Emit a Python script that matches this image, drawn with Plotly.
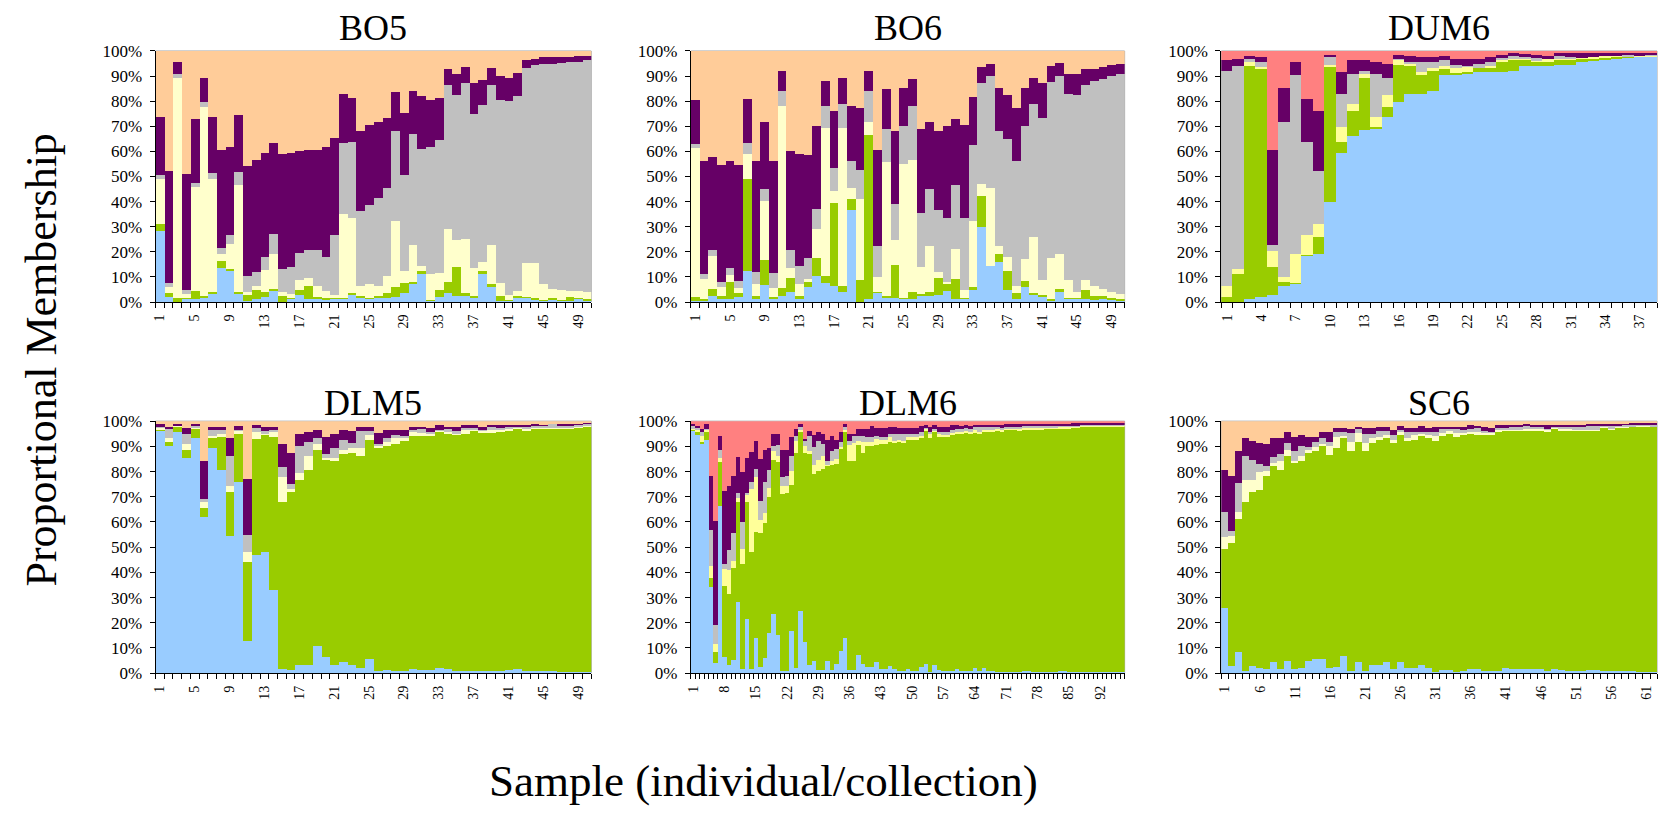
import numpy as np
import plotly.graph_objects as go

# ---------------- data: cumulative upper boundary (%) of each cluster, bottom -> top -------------
# order: blue, green, yellow, grey, purple ; the top cluster (peach / salmon) fills to 100 %

BO5_BLUE = [28.1, 2.0, 0.0, 1.3, 1.3, 1.9, 3.5, 13.7, 12.3, 3.2,
            0.6, 1.2, 1.9, 4.5, 0.0, 1.2, 2.6, 1.2, 1.2, 0.9,
            1.2, 1.2, 2.6, 1.9, 1.2, 1.9, 1.4, 1.9, 3.5, 7.1,
            11.3, 0.6, 1.9, 3.5, 2.5, 2.5, 1.6, 11.0, 5.8, 0.6,
            0.6, 1.9, 1.6, 0.9, 0.6, 0.9, 0.6, 0.6, 1.2, 0.5]
BO5_GREEN = [31.0, 3.5, 1.5, 1.5, 4.2, 2.2, 4.0, 16.2, 13.1, 3.8,
             2.6, 4.8, 3.8, 5.3, 2.2, 1.6, 4.8, 6.5, 1.9, 1.4,
             1.4, 1.4, 3.6, 2.2, 1.4, 2.5, 3.5, 5.8, 7.4, 7.9,
             12.2, 1.0, 4.8, 7.9, 14.1, 3.5, 2.5, 12.2, 7.0, 2.5,
             0.9, 2.5, 1.8, 1.7, 0.9, 1.7, 0.9, 2.1, 1.4, 1.3]
BO5_YELLOW = [48.9, 6.0, 89.4, 3.2, 46.0, 77.7, 48.9, 19.3, 23.2, 46.6,
              4.0, 6.5, 12.8, 19.3, 4.0, 3.0, 8.9, 9.6, 6.4, 4.4,
              2.9, 35.1, 33.6, 6.4, 7.1, 6.4, 10.2, 32.3, 12.3, 22.7,
              14.5, 11.0, 11.5, 29.2, 24.9, 25.3, 13.6, 16.1, 22.7, 7.4,
              2.9, 4.5, 15.4, 15.4, 7.1, 5.3, 4.9, 4.2, 4.4, 3.8]
BO5_GREY = [50.5, 7.5, 90.8, 4.8, 47.6, 79.5, 51.2, 21.7, 26.8, 51.9,
            10.2, 11.9, 18.0, 27.1, 13.1, 13.9, 19.6, 20.9, 20.9, 18.0,
            26.6, 63.2, 63.6, 36.3, 38.8, 41.5, 45.3, 68.1, 50.5, 67.1,
            60.8, 61.6, 64.7, 86.3, 82.6, 87.2, 75.1, 78.3, 86.5, 80.4,
            80.0, 82.0, 93.3, 94.3, 94.7, 94.7, 95.3, 95.6, 95.8, 96.6]
BO5_PURPLE = [73.8, 52.0, 95.6, 51.1, 72.9, 89.2, 73.8, 60.6, 61.9, 74.4,
              54.3, 56.7, 59.3, 63.2, 58.9, 59.3, 60.2, 60.6, 60.6, 61.6,
              65.4, 83.0, 81.3, 68.2, 70.7, 71.6, 73.3, 83.7, 75.5, 84.2,
              82.2, 80.3, 81.3, 92.7, 91.0, 93.8, 87.2, 88.5, 93.1, 90.0,
              89.1, 91.2, 96.5, 96.9, 97.7, 97.7, 97.7, 97.8, 97.9, 98.2]

BO6_BLUE = [0.5, 0.6, 2.5, 1.2, 1.3, 1.8, 12.2, 1.2, 6.7, 1.3,
            2.5, 4.1, 1.2, 5.8, 10.2, 7.4, 6.5, 3.8, 36.5, 0.0,
            1.2, 3.9, 1.4, 1.4, 1.3, 1.2, 2.2, 2.5, 2.6, 4.5,
            1.3, 1.3, 4.8, 30.0, 14.4, 16.1, 4.8, 1.3, 6.1, 2.6,
            2.2, 0.6, 3.9, 1.2, 1.3, 1.2, 1.0, 1.5, 0.8, 0.6]
BO6_GREEN = [2.0, 1.2, 5.2, 2.5, 8.0, 3.5, 49.2, 2.5, 16.8, 1.9,
             5.4, 9.7, 2.5, 7.8, 17.4, 10.4, 39.5, 6.3, 41.1, 8.9,
             66.7, 4.1, 2.2, 14.9, 1.4, 3.8, 3.2, 4.1, 9.7, 7.4,
             9.1, 1.6, 6.1, 42.1, 14.5, 19.0, 12.3, 3.5, 8.3, 3.5,
             2.6, 1.2, 5.1, 1.4, 1.4, 4.8, 2.5, 2.2, 1.5, 1.2]
BO6_YELLOW = [61.5, 9.3, 18.4, 5.8, 10.6, 5.4, 58.8, 7.1, 40.2, 5.4,
              78.2, 13.5, 7.1, 9.3, 29.0, 69.2, 44.3, 69.3, 45.6, 41.1,
              71.7, 10.0, 55.6, 24.6, 55.0, 56.6, 13.9, 22.3, 11.9, 8.0,
              21.0, 4.8, 32.4, 47.2, 45.6, 22.3, 18.0, 6.3, 17.1, 25.8,
              8.9, 17.4, 19.3, 8.9, 3.9, 8.7, 6.5, 5.0, 4.0, 3.0]
BO6_GREY = [63.0, 11.3, 20.7, 8.0, 13.5, 8.4, 63.5, 11.9, 45.2, 11.5,
            84.1, 20.7, 14.5, 17.4, 37.2, 78.0, 53.4, 79.0, 56.3, 52.7,
            84.2, 22.3, 68.9, 39.1, 70.2, 78.0, 35.6, 45.2, 36.5, 33.3,
            46.6, 33.5, 62.7, 87.3, 89.9, 68.0, 65.0, 56.0, 70.2, 78.9,
            73.2, 87.7, 89.9, 82.9, 82.3, 86.4, 88.0, 89.0, 90.0, 91.0]
BO6_PURPLE = [80.6, 56.0, 57.6, 54.4, 56.3, 54.4, 81.0, 56.0, 71.9, 56.3,
              92.2, 60.2, 58.8, 58.5, 70.2, 88.1, 76.0, 89.2, 78.0, 77.3,
              92.2, 60.5, 84.8, 68.3, 85.4, 88.7, 68.9, 71.9, 68.0, 70.2,
              72.8, 70.5, 81.5, 93.8, 94.8, 85.1, 82.5, 77.1, 85.1, 89.2,
              87.3, 94.0, 95.1, 90.9, 90.9, 92.9, 93.0, 93.5, 94.5, 95.0]

DUM6_BLUE = [0.0, 0.0, 1.3, 1.8, 2.8, 6.3, 7.4, 18.4, 19.3, 40.0,
             59.5, 66.3, 68.7, 69.3, 73.7, 79.8, 82.9, 82.9, 84.2, 90.3,
             90.3, 91.2, 91.6, 91.6, 91.6, 92.2, 94.2, 94.2, 94.2, 94.6,
             94.6, 95.5, 96.1, 96.8, 97.0, 97.4, 97.7, 97.7]
DUM6_GREEN = [2.0, 11.3, 94.2, 93.1, 13.9, 8.0, 7.6, 18.7, 25.8, 93.9,
              63.7, 76.0, 89.2, 69.8, 77.6, 94.6, 93.9, 90.3, 92.2, 92.9,
              91.3, 91.8, 93.1, 93.1, 95.5, 96.5, 96.8, 95.7, 95.7, 96.8,
              96.5, 97.0, 96.8, 97.4, 98.0, 97.8, 98.0, 98.0]
DUM6_YELLOW = [6.4, 13.3, 95.7, 93.5, 20.3, 10.0, 19.3, 26.6, 31.0, 94.6,
               69.6, 78.9, 90.9, 73.7, 82.3, 96.5, 94.8, 91.8, 93.1, 94.2,
               93.1, 93.9, 93.1, 94.2, 96.5, 97.0, 97.0, 95.9, 97.0, 97.0,
               96.8, 97.4, 97.7, 98.3, 98.3, 98.0, 98.3, 98.3]
DUM6_GREY = [92.2, 94.2, 97.0, 95.5, 22.7, 71.8, 90.3, 63.7, 52.1, 97.7,
             82.9, 90.9, 92.2, 90.9, 89.2, 96.8, 95.7, 95.5, 95.5, 96.5,
             94.6, 94.2, 94.8, 95.7, 97.4, 98.0, 98.0, 97.4, 97.0, 98.0,
             97.7, 97.4, 97.7, 98.4, 98.4, 98.3, 98.4, 98.4]
DUM6_PURPLE = [96.5, 97.0, 98.0, 97.7, 60.5, 85.4, 95.5, 81.0, 76.0, 98.3,
               91.6, 96.5, 96.5, 95.5, 94.8, 98.4, 98.0, 97.7, 97.7, 98.0,
               96.8, 96.8, 96.8, 97.7, 98.4, 99.1, 98.7, 98.3, 98.0, 99.4,
               99.1, 99.1, 99.1, 99.1, 99.1, 99.1, 99.1, 99.4]

DLM5_BLUE = [96.1, 90.2, 95.5, 85.4, 93.1, 62.1, 89.3, 80.5, 54.3, 75.7,
             12.5, 47.0, 48.1, 33.0, 1.6, 1.3, 3.0, 3.0, 10.7, 6.5,
             3.0, 4.5, 3.2, 1.9, 5.4, 0.9, 1.3, 0.9, 0.9, 1.6,
             1.3, 1.3, 1.9, 1.6, 0.8, 0.8, 0.8, 0.8, 0.8, 0.8,
             1.3, 1.6, 0.8, 0.9, 0.8, 0.8, 0.5, 0.5, 0.5, 0.5]
DLM5_GREEN = [96.6, 91.8, 97.7, 88.6, 97.0, 65.6, 93.1, 93.5, 71.8, 94.8,
              44.2, 92.8, 94.8, 93.5, 67.9, 71.8, 76.6, 80.5, 88.6, 84.7,
              84.1, 86.9, 87.3, 86.0, 92.5, 89.3, 90.2, 90.9, 92.2, 94.2,
              94.4, 94.0, 95.5, 95.1, 94.8, 94.8, 96.1, 95.5, 95.1, 95.5,
              96.4, 97.0, 96.4, 97.0, 97.0, 97.0, 97.0, 97.0, 97.4, 97.7]
DLM5_YELLOW = [97.4, 93.1, 98.1, 90.8, 97.3, 67.7, 94.0, 94.8, 74.4, 96.1,
               48.1, 95.7, 95.0, 95.7, 77.6, 73.1, 79.2, 86.3, 90.8, 85.4,
               85.4, 88.4, 89.3, 89.3, 94.4, 90.2, 91.8, 93.1, 93.1, 95.7,
               95.1, 94.8, 96.4, 95.7, 95.0, 96.6, 96.6, 96.1, 96.6, 96.6,
               97.0, 97.3, 97.0, 97.4, 97.4, 97.4, 97.4, 97.4, 97.7, 98.1]
DLM5_GREY = [97.7, 97.0, 98.3, 94.7, 98.3, 69.0, 96.4, 96.4, 86.0, 96.3,
             54.7, 97.4, 96.1, 96.4, 81.9, 75.0, 89.9, 91.8, 93.1, 87.1,
             89.3, 92.5, 91.2, 96.1, 96.1, 90.8, 93.1, 94.4, 94.0, 96.6,
             97.0, 95.7, 96.6, 97.0, 96.1, 97.4, 97.4, 96.6, 97.7, 97.4,
             97.7, 97.7, 97.9, 98.3, 98.3, 98.7, 98.3, 98.3, 98.7, 99.0]
DLM5_PURPLE = [98.7, 97.7, 99.0, 97.4, 99.0, 84.1, 97.7, 97.7, 93.1, 97.9,
               77.0, 98.6, 97.7, 97.7, 90.8, 87.3, 94.7, 95.7, 96.4, 93.5,
               94.7, 96.4, 96.1, 97.7, 97.7, 95.1, 96.4, 96.6, 96.6, 97.7,
               97.7, 97.2, 98.3, 97.7, 97.7, 98.3, 98.3, 97.7, 98.3, 98.3,
               98.3, 98.3, 98.6, 99.0, 98.6, 98.7, 99.0, 99.0, 99.0, 99.2]

DLM6_BLUE = [96.1, 94.4, 90.9, 92.5, 34.3, 3.8, 66.4, 6.2, 3.2, 5.2,
             28.2, 1.7, 21.6, 1.6, 13.8, 2.3, 6.1, 16.0, 23.6, 15.0,
             0.8, 0.8, 16.5, 2.0, 24.5, 12.2, 3.0, 4.8, 1.3, 1.3,
             4.8, 1.3, 3.5, 8.7, 14.0, 1.3, 1.3, 7.0, 3.5, 2.3,
             2.3, 4.3, 1.6, 1.6, 2.8, 1.6, 0.6, 0.6, 1.6, 0.6,
             0.6, 2.2, 3.5, 0.3, 3.1, 1.0, 0.6, 0.6, 0.6, 1.6,
             0.6, 0.8, 0.6, 1.9, 0.6, 1.9, 0.6, 0.6, 0.3, 0.3,
             0.3, 0.3, 0.3, 0.3, 0.6, 0.6, 0.3, 0.3, 0.3, 0.3,
             0.3, 0.3, 0.6, 0.6, 0.3, 0.3, 0.3, 0.3, 0.3, 0.3,
             0.3, 0.3, 0.3, 0.3, 0.3, 0.3, 0.3]
DLM6_GREEN = [96.5, 95.5, 91.5, 95.5, 37.5, 8.3, 83.7, 34.5, 31.5, 41.5,
              67.7, 43.3, 67.7, 47.9, 56.0, 55.6, 59.5, 69.9, 84.5, 83.7,
              71.2, 71.3, 74.5, 87.5, 95.5, 87.5, 87.0, 78.8, 80.0, 81.0,
              82.2, 82.7, 83.0, 89.0, 95.5, 84.0, 84.0, 90.5, 87.5, 89.9,
              89.9, 90.6, 90.9, 90.9, 91.8, 91.2, 91.5, 91.5, 92.8, 92.8,
              92.8, 93.5, 96.1, 93.1, 95.7, 93.8, 93.5, 93.5, 94.4, 95.1,
              94.8, 95.3, 94.8, 95.3, 94.8, 95.7, 95.7, 95.7, 96.4, 95.7,
              96.6, 96.6, 96.6, 96.4, 96.6, 96.6, 96.8, 96.8, 96.8, 97.0,
              97.0, 97.0, 97.2, 97.2, 97.2, 97.4, 97.4, 97.7, 97.7, 97.7,
              97.7, 97.8, 97.8, 97.9, 98.0, 98.0, 98.0]
DLM6_YELLOW = [97.2, 96.5, 94.0, 96.5, 42.5, 11.5, 85.5, 41.3, 41.0, 44.6,
               69.5, 49.4, 70.5, 73.1, 77.6, 60.8, 63.4, 73.4, 88.0, 86.3,
               74.1, 74.2, 80.0, 92.0, 96.5, 90.0, 88.0, 82.5, 84.5, 86.0,
               82.5, 84.2, 85.0, 89.7, 96.5, 90.3, 91.2, 92.0, 91.5, 91.8,
               91.8, 92.8, 92.5, 92.5, 93.8, 92.2, 92.5, 92.2, 93.5, 93.5,
               93.5, 94.0, 97.0, 94.8, 96.4, 94.8, 94.6, 94.4, 95.3, 95.7,
               95.7, 96.1, 95.7, 96.4, 95.7, 96.6, 96.6, 96.6, 97.0, 96.6,
               97.2, 97.2, 97.2, 97.0, 97.2, 97.2, 97.4, 97.4, 97.4, 97.6,
               97.6, 97.6, 97.8, 97.8, 97.8, 98.0, 98.0, 98.2, 98.2, 98.2,
               98.2, 98.3, 98.3, 98.4, 98.4, 98.4, 98.4]
DLM6_GREY = [97.9, 97.3, 95.8, 97.0, 56.9, 19.0, 88.4, 43.3, 48.8, 55.4,
             71.4, 59.8, 71.4, 75.9, 80.9, 68.2, 75.9, 80.5, 89.9, 90.6,
             77.6, 78.0, 86.0, 94.0, 97.5, 92.0, 94.0, 89.5, 92.0, 91.0,
             84.0, 88.0, 89.0, 91.5, 97.5, 92.0, 94.0, 94.2, 94.0, 93.5,
             93.5, 94.2, 93.5, 93.5, 94.8, 94.8, 94.8, 94.8, 94.8, 94.8,
             94.8, 95.7, 97.4, 95.7, 96.9, 95.7, 95.7, 95.7, 96.6, 96.9,
             96.9, 97.2, 96.9, 97.6, 97.6, 97.6, 97.6, 97.6, 97.7, 97.4,
             97.8, 97.8, 97.8, 97.8, 98.0, 98.0, 98.0, 98.0, 98.0, 98.2,
             98.2, 98.2, 98.3, 98.3, 98.3, 98.4, 98.4, 98.6, 98.6, 98.6,
             98.6, 98.7, 98.7, 98.7, 98.7, 98.7, 98.7]
DLM6_PURPLE = [98.7, 98.0, 97.0, 98.7, 78.0, 60.5, 94.2, 72.2, 74.1, 78.0,
               85.8, 79.8, 85.4, 87.6, 92.2, 85.1, 88.4, 89.3, 94.8, 94.8,
               88.6, 88.4, 93.5, 96.9, 98.7, 93.0, 96.0, 94.5, 95.7, 95.0,
               92.3, 94.0, 92.3, 95.8, 98.7, 95.0, 95.0, 97.0, 97.0, 97.0,
               98.0, 97.3, 97.3, 97.3, 97.5, 97.5, 97.3, 97.3, 97.3, 97.3,
               97.3, 98.2, 98.6, 97.7, 98.6, 97.7, 97.7, 97.7, 98.6, 98.6,
               98.1, 98.6, 98.1, 98.6, 98.6, 98.6, 98.6, 98.6, 98.6, 98.6,
               98.8, 98.8, 98.8, 98.8, 98.9, 98.9, 98.9, 98.9, 98.9, 99.0,
               99.0, 99.0, 99.0, 99.0, 99.0, 99.1, 99.1, 99.1, 99.1, 99.2,
               99.2, 99.2, 99.2, 99.3, 99.3, 99.3, 99.3]

SC6_BLUE = [25.6, 2.8, 8.2, 0.6, 2.8, 1.9, 1.6, 4.3, 1.6, 4.9,
            1.6, 1.9, 4.9, 5.4, 5.4, 1.9, 2.2, 6.7, 0.6, 4.3,
            0.6, 3.0, 3.0, 4.3, 1.6, 4.5, 1.9, 1.9, 3.0, 1.9,
            0.4, 1.0, 1.0, 0.4, 0.6, 1.6, 1.6, 0.6, 0.6, 0.6,
            1.9, 1.6, 1.6, 1.6, 1.6, 1.6, 0.6, 1.6, 1.0, 0.6,
            0.6, 0.6, 1.3, 1.3, 0.9, 0.6, 0.6, 0.6, 0.6, 0.4,
            0.4, 0.4]
SC6_GREEN = [49.4, 51.4, 61.1, 67.7, 71.8, 72.8, 78.0, 82.1, 80.5, 86.3,
             83.2, 84.1, 87.3, 88.0, 89.9, 86.4, 89.3, 93.5, 88.2, 91.8,
             88.0, 91.2, 92.5, 93.1, 91.2, 94.8, 92.2, 92.5, 94.0, 93.1,
             92.1, 94.4, 94.8, 93.5, 94.8, 95.1, 94.8, 94.8, 94.4, 95.7,
             96.1, 96.1, 96.1, 96.4, 96.1, 96.4, 95.7, 97.0, 96.4, 96.4,
             96.4, 96.4, 96.4, 96.4, 97.4, 96.6, 97.4, 97.4, 97.7, 97.7,
             97.7, 97.7]
SC6_YELLOW = [54.1, 54.3, 64.0, 76.6, 76.6, 79.6, 80.2, 83.2, 84.1, 88.4,
              84.1, 86.0, 88.4, 89.5, 90.8, 89.9, 93.5, 94.0, 91.8, 95.3,
              91.2, 93.1, 93.5, 94.4, 92.5, 95.5, 93.1, 94.4, 94.8, 94.4,
              94.0, 95.1, 96.1, 95.1, 95.3, 95.7, 95.5, 95.3, 95.3, 96.4,
              96.6, 96.6, 96.6, 97.0, 97.0, 97.0, 96.6, 97.4, 97.0, 97.0,
              96.6, 96.6, 96.6, 96.6, 97.7, 97.0, 97.7, 97.7, 98.0, 97.9,
              97.9, 98.0]
SC6_GREY = [63.8, 56.3, 75.3, 86.0, 84.7, 83.0, 82.1, 85.8, 86.9, 91.2,
            88.0, 89.9, 89.7, 91.8, 93.1, 91.8, 95.7, 95.7, 95.3, 97.0,
            94.8, 94.8, 96.1, 96.1, 94.4, 96.4, 95.5, 95.5, 95.7, 95.5,
            95.7, 97.0, 97.0, 97.0, 96.4, 97.0, 97.4, 96.1, 95.7, 97.4,
            97.4, 97.9, 97.7, 98.3, 97.7, 97.9, 97.0, 97.7, 97.7, 97.7,
            97.7, 97.7, 97.9, 97.9, 98.3, 97.9, 98.3, 98.6, 98.7, 98.7,
            98.7, 98.7]
SC6_PURPLE = [80.6, 78.0, 88.2, 93.1, 92.2, 91.2, 90.8, 93.1, 93.1, 95.7,
              93.8, 94.4, 93.8, 93.8, 95.7, 95.7, 97.4, 97.4, 97.0, 97.7,
              97.4, 97.4, 97.7, 97.7, 96.6, 97.9, 97.4, 97.4, 97.9, 97.4,
              97.7, 97.7, 97.7, 97.7, 97.7, 98.6, 97.9, 97.7, 97.4, 98.6,
              98.6, 98.6, 98.6, 99.0, 98.6, 98.3, 98.3, 98.3, 98.6, 98.6,
              98.3, 98.3, 99.0, 99.0, 99.0, 99.0, 99.0, 99.0, 99.2, 99.2,
              99.2, 99.2]

PANEL_NAMES = ["BO5", "BO6", "DUM6", "DLM5", "DLM6", "SC6"]
LABEL_STEP = [4, 4, 3, 4, 7, 5]

# ---------------- styling ----------------
W, H = 1667, 815
BLUE, GREEN, GREY, PURPLE = "#99CCFF", "#99CC00", "#C0C0C0", "#660066"
LYELLOW, YELLOW = "#FFFFCC", "#FFFF99"
PEACH, SALMON = "#FFCC99", "#FF8080"
FONT = "Liberation Serif, Times New Roman, serif"

COLS = [(151, 588), (688, 1123), (1220, 1657)]
ROWS = [(43, 300), (422, 680)]
TITLE_Y = [19, 403]

panels = [
    (BO5_BLUE, BO5_GREEN, BO5_YELLOW, BO5_GREY, BO5_PURPLE, LYELLOW, PEACH),
    (BO6_BLUE, BO6_GREEN, BO6_YELLOW, BO6_GREY, BO6_PURPLE, LYELLOW, PEACH),
    (DUM6_BLUE, DUM6_GREEN, DUM6_YELLOW, DUM6_GREY, DUM6_PURPLE, YELLOW, SALMON),
    (DLM5_BLUE, DLM5_GREEN, DLM5_YELLOW, DLM5_GREY, DLM5_PURPLE, LYELLOW, PEACH),
    (DLM6_BLUE, DLM6_GREEN, DLM6_YELLOW, DLM6_GREY, DLM6_PURPLE, YELLOW, SALMON),
    (SC6_BLUE, SC6_GREEN, SC6_YELLOW, SC6_GREY, SC6_PURPLE, LYELLOW, PEACH),
]

fig = go.Figure()
layout = dict(
    width=W, height=H, autosize=False,
    margin=dict(l=0, r=0, t=0, b=0),
    paper_bgcolor="white", plot_bgcolor="white",
    barmode="stack", bargap=0, showlegend=False,
    font=dict(family=FONT, color="black"),
)
annotations = []
shapes = []

for i, p in enumerate(panels):
    blue, green, yellow, grey, purple, ycol, topcol = p
    n = len(blue)
    assert all(len(a) == n for a in (green, yellow, grey, purple)), (PANEL_NAMES[i], [len(a) for a in p[:5]])
    cum = np.array([blue, green, yellow, grey, purple, [100.0] * n])
    prev = np.vstack([np.zeros(n), cum[:-1]])
    heights = np.clip(cum - prev, 0, None)
    colors = [BLUE, GREEN, ycol, GREY, PURPLE, topcol]
    sfx = "" if i == 0 else str(i + 1)
    xs = np.arange(1, n + 1)
    for h, c in zip(heights, colors):
        fig.add_trace(go.Bar(x=xs, y=h, marker=dict(color=c, line=dict(width=0)),
                             xaxis="x" + sfx, yaxis="y" + sfx, showlegend=False,
                             hoverinfo="skip"))
    r, cidx = divmod(i, 3)
    x0, x1 = COLS[cidx]
    y0, y1 = ROWS[r]
    step = LABEL_STEP[i]
    labeled = [k for k in range(1, n + 1) if (k - 1) % step == 0]
    layout["xaxis" + sfx] = dict(
        domain=[x0 / W, x1 / W], anchor="y" + sfx, range=[0.5, n + 0.5],
        tickmode="array", tickvals=labeled, ticktext=[str(k) for k in labeled],
        ticks="", tickangle=-90, tickfont=dict(size=14, family=FONT),
        ticklabelstandoff=6,
        minor=dict(tickmode="linear", tick0=0.5, dtick=1, ticks="outside",
                   ticklen=5, tickcolor="black", tickwidth=1),
        showline=True, linecolor="black", linewidth=1,
        showgrid=False, zeroline=False, fixedrange=True,
    )
    layout["yaxis" + sfx] = dict(
        domain=[1 - y1 / H, 1 - y0 / H], anchor="x" + sfx, range=[0, 100],
        tickmode="array", tickvals=list(range(0, 101, 10)),
        ticktext=[f"{v}%" for v in range(0, 101, 10)],
        ticks="outside", ticklen=5, tickcolor="black", tickwidth=1,
        tickfont=dict(size=17, family=FONT), ticklabelstandoff=4,
        showline=True, linecolor="black", linewidth=1,
        showgrid=False, zeroline=False, fixedrange=True,
    )
    shapes.append(dict(type="rect", xref=f"x{sfx} domain", yref=f"y{sfx} domain",
                       x0=0, x1=1, y0=0, y1=1, line=dict(color="#A6A6A6", width=1),
                       layer="below"))
    annotations.append(dict(text=PANEL_NAMES[i], x=(x0 + x1) / 2 / W, y=1 - TITLE_Y[r] / H,
                            xref="paper", yref="paper", xanchor="center", yanchor="middle",
                            showarrow=False, font=dict(size=36, family=FONT, color="black")))

annotations.append(dict(text="Proportional Membership", x=37 / W, y=1 - 359 / H,
                        xref="paper", yref="paper", xanchor="center", yanchor="middle",
                        textangle=-90, showarrow=False,
                        font=dict(size=44, family=FONT, color="black")))
annotations.append(dict(text="Sample (individual/collection)", x=761 / W, y=1 - 790 / H,
                        xref="paper", yref="paper", xanchor="center", yanchor="middle",
                        showarrow=False, font=dict(size=45, family=FONT, color="black")))

layout["annotations"] = annotations
layout["shapes"] = shapes
fig.update_layout(**layout)

fig.write_html("out.html", config={"displayModeBar": False},
               post_script="document.body.style.margin='0px';")
